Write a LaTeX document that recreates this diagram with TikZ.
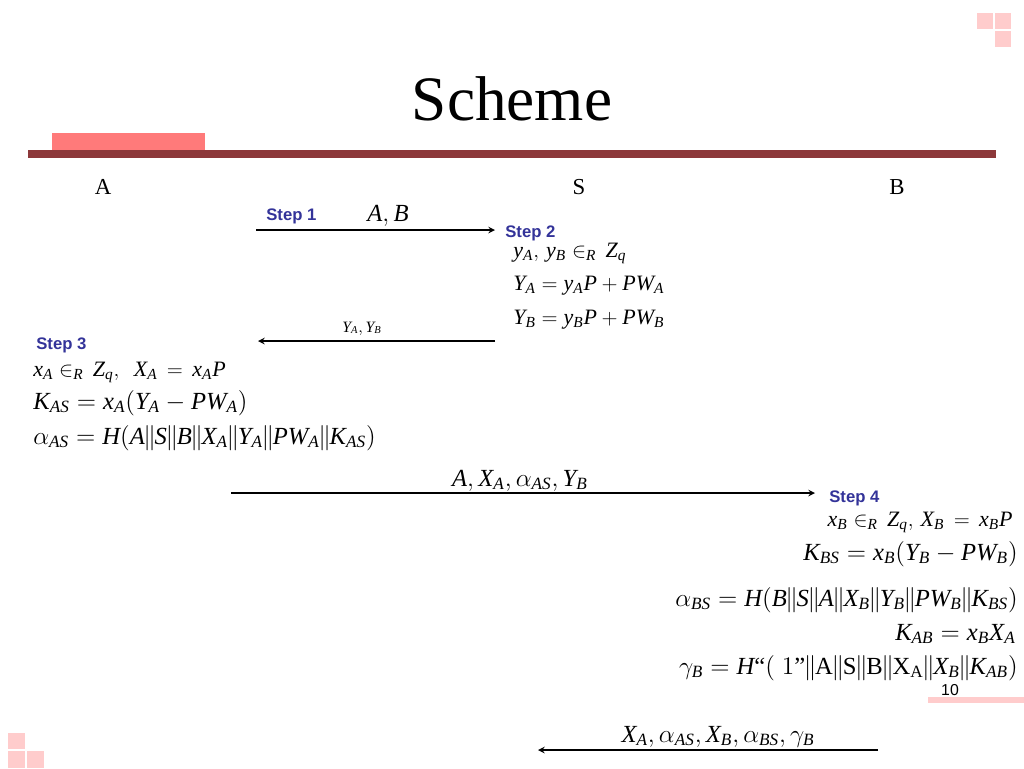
\documentclass[tikz,border=0pt]{standalone}
\usepackage{fontspec}
\usepackage{amsmath}
\setmainfont{Liberation Serif}
\setsansfont{Liberation Sans}
% Times-like italic letters in formulas
\DeclareSymbolFont{tlet}{TU}{\rmdefault}{m}{it}
\newcommand\setmathletter[1]{\DeclareMathSymbol{#1}{\mathalpha}{tlet}{`#1}}
\makeatletter
\@tfor\tl@c:=abcdefghijklmnopqrstuvwxyzABCDEFGHIJKLMNOPQRSTUVWXYZ\do{\expandafter\setmathletter\expandafter{\tl@c}}
\makeatother
\definecolor{barred}{RGB}{140,56,58}
\definecolor{tabpink}{RGB}{255,122,122}
\definecolor{palepink}{RGB}{255,204,204}
\definecolor{stepblue}{RGB}{51,51,153}
\newcommand\up[1]{\text{\rmfamily\upshape #1}}
\newcommand\cat{\mkern-1mu\|\mkern-1mu}
\tikzset{
  steplabel/.style={font=\fontsize{9.5}{11}\sffamily\bfseries, text=stepblue, inner sep=0pt},
  eqn/.style={font=\fontsize{14}{16}\selectfont, inner sep=0pt},
  smalleqn/.style={font=\fontsize{12.5}{15}\selectfont, inner sep=0pt},
  party/.style={font=\fontsize{13}{15}\selectfont, inner sep=0pt, anchor=base},
  msg/.style={line width=0.7pt, ->},
}
\begin{document}
\begin{tikzpicture}[x=0.02cm, y=-0.02cm, line join=round, >=stealth]
	\useasboundingbox (0,0) rectangle (1024,768);
	% slide decoration
	\fill[palepink] (977,13) rectangle (993,29);
	\fill[palepink] (995,13) rectangle (1011,29);
	\fill[palepink] (995,31) rectangle (1011,47);
	\fill[palepink] (8,733) rectangle (25,749);
	\fill[palepink] (8,751) rectangle (25,768);
	\fill[palepink] (27,751) rectangle (44,768);
	\fill[palepink] (928,697) rectangle (1024,703);
	\fill[tabpink] (52,133) rectangle (205,150);
	\fill[barred] (28,150) rectangle (996,158);
	\node[font=\fontsize{36}{40}\selectfont, anchor=base] (title) at (512,120) {Scheme};
	\node[font=\fontsize{9}{10}\sffamily, anchor=base] (page) at (950,695) {10};
	% parties
	\node[party] (A) at (103,194) {A};
	\node[party] (S) at (579,194) {S};
	\node[party] (B) at (897,194) {B};
	% step 1
	\coordinate (m1s) at (256,230);
	\coordinate (m1e) at (495,230);
	\draw[msg] (m1s) -- (m1e);
	\node[steplabel, anchor=base west] (st1) at (266,220) {Step 1};
	\node[eqn, anchor=base] (msg1) at (388,221) {$A,B$};
	% step 2
	\node[steplabel, anchor=base west] (st2) at (505,237) {Step 2};
	\node[smalleqn, anchor=base west] (e21) at (513,257) {$y_A,\, y_B \in_R\, Z_q$};
	\node[smalleqn, anchor=base west] (e22) at (513,290) {$Y_A = y_A P + PW_A$};
	\node[smalleqn, anchor=base west] (e23) at (513,324) {$Y_B = y_B P + PW_B$};
	\coordinate (m2s) at (495,341);
	\coordinate (m2e) at (258,341);
	\draw[msg] (m2s) -- (m2e);
	\node[font=\fontsize{9}{10}\selectfont, inner sep=0pt, anchor=base] (msg2) at (362,332) {$Y_A,Y_B$};
	% step 3
	\node[steplabel, anchor=base west] (st3) at (36,349) {Step 3};
	\node[smalleqn, anchor=base west] (e31) at (33,376) {$x_A \in_R\, Z_q,\ \ X_A \,=\, x_A P$};
	\node[eqn, anchor=base west] (e32) at (33,409) {$K_{AS} = x_A(Y_A - PW_A)$};
	\node[eqn, anchor=base west] (e33) at (33,444) {$\alpha_{AS} = H(A\cat S\cat B\cat X_A\cat Y_A\cat PW_A\cat K_{AS})$};
	\coordinate (m3s) at (231,493);
	\coordinate (m3e) at (815,493);
	\draw[msg] (m3s) -- (m3e);
	\node[eqn, anchor=base] (msg3) at (520,486) {$A, X_A, \alpha_{AS}, Y_B$};
	% step 4
	\node[steplabel, anchor=base west] (st4) at (829,502) {Step 4};
	\node[smalleqn, anchor=base east] (e41) at (1013,526) {$x_B \in_R\, Z_q,\, X_B \,=\, x_B P$};
	\node[eqn, anchor=base east] (e42) at (1018,560) {$K_{BS} = x_B(Y_B - PW_B)$};
	\node[eqn, anchor=base east] (e43) at (1018,606) {$\alpha_{BS} = H(B\cat S\cat A\cat X_B\cat Y_B\cat PW_B\cat K_{BS})$};
	\node[eqn, anchor=base east] (e44) at (1016,640) {$K_{AB} = x_B X_A$};
	\node[eqn, anchor=base east] (e45) at (1018,674) {$\gamma_B = H\up{“}(\;1\up{”}\cat\up{A}\cat\up{S}\cat\up{B}\cat\up{X}_{\up{A}}\cat X_B\cat K_{AB})$};
	\coordinate (m4s) at (878,750);
	\coordinate (m4e) at (538,750);
	\draw[msg] (m4s) -- (m4e);
	\node[eqn, anchor=base] (msg4) at (718,742) {$X_A,\alpha_{AS},X_B,\alpha_{BS},\gamma_B$};
\end{tikzpicture}
\end{document}
